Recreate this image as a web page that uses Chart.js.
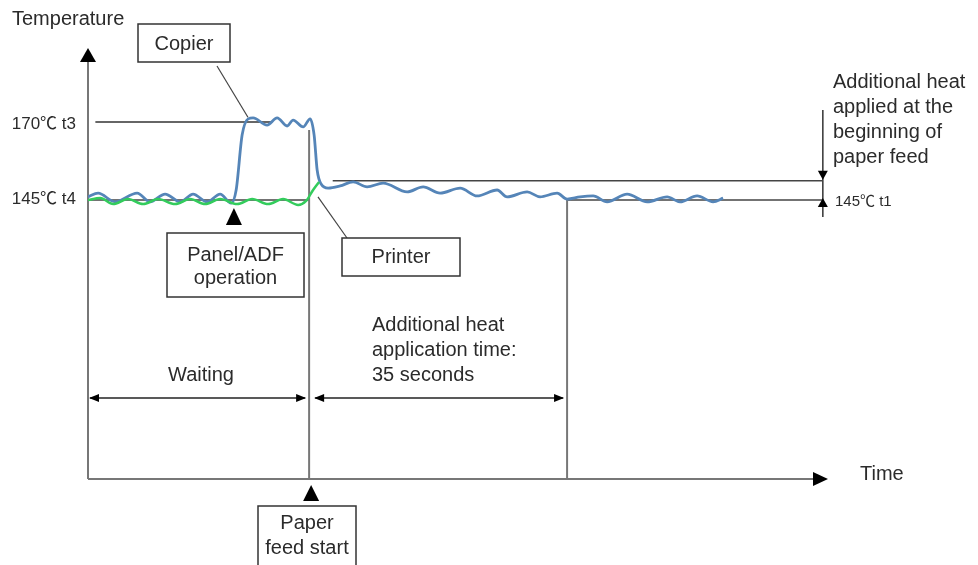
<!DOCTYPE html>
<html>
<head>
<meta charset="utf-8">
<script src="https://cdn.jsdelivr.net/npm/chart.js@4/dist/chart.umd.min.js"></script>
<style>
html, body { margin: 0; padding: 0; background: #fff; }
#wrap { width: 978px; height: 565px; }
</style>
</head>
<body>
<div id="wrap"><canvas id="fuserChart" width="978" height="565"></canvas></div>
<script>
// 时间(秒, 0 = 开始进纸), 温度(℃)
const copierTime = [-30.0, -28.63, -26.32, -23.33, -21.57, -19.54, -17.50, -15.74, -13.84, -12.07, -10.58,
    -9.90, -9.09, -8.27, -7.60, -5.70, -4.34, -2.98, -2.17, -0.81, 0.14, 0.68, 1.09, 1.63, 2.58, 4.21,
    5.97, 7.87, 10.04, 13.30, 15.47, 17.77, 20.49, 22.79, 25.51, 26.86, 29.58, 31.34, 33.65, 35.00,
    36.77, 38.54, 40.43, 43.15, 45.86, 48.57, 50.33, 52.64, 54.81, 56.17];
const copierTemp = [146.0, 147.2, 144.4, 147.2, 144.4, 146.9, 144.4, 146.9, 144.4, 146.9, 144.0,
    148.2, 165.8, 171.0, 171.3, 169.0, 171.3, 168.7, 170.6, 168.4, 171.0, 165.8, 154.6, 150.1, 148.8, 149.5,
    150.8, 149.2, 150.4, 147.6, 149.2, 147.2, 148.8, 146.3, 148.2, 146.0, 147.6, 146.0, 147.2, 145.3,
    146.0, 146.3, 144.4, 146.9, 144.4, 146.0, 144.4, 146.3, 144.4, 145.6];

const printerTime = [-30.0, -28.35, -26.59, -24.56, -22.52, -20.49, -18.18, -16.14, -14.11, -12.07,
    -9.77, -7.73, -5.56, -3.53, -1.49, -0.41, 0.54, 1.36];
const printerTemp = [145.0, 145.6, 143.7, 145.3, 143.7, 145.3, 143.7, 145.3, 143.7, 145.3,
    143.7, 145.3, 143.7, 145.3, 143.4, 144.7, 148.2, 150.8];

// 参考温度和事件时间
const tempT3 = 170;
const tempT4 = 145;
const tempT1 = 145;
const tempBoost = 151.2;
const panelOpTime = -10.2;
const paperFeedTime = 0;
const boostEndTime = 35;

const FONT = '"Liberation Sans", Arial, "Noto Sans CJK SC", sans-serif';
const TEXT = '#2b2b2b';

function seg(ctx, x1, y1, x2, y2, color, w) {
    ctx.beginPath();
    ctx.strokeStyle = color;
    ctx.lineWidth = w;
    ctx.moveTo(x1, y1);
    ctx.lineTo(x2, y2);
    ctx.stroke();
}

// 实心三角形, (x,y) 为尖端
function tri(ctx, x, y, dir, len, half) {
    ctx.beginPath();
    ctx.fillStyle = '#000';
    ctx.moveTo(x, y);
    if (dir === 'up') { ctx.lineTo(x - half, y + len); ctx.lineTo(x + half, y + len); }
    if (dir === 'down') { ctx.lineTo(x - half, y - len); ctx.lineTo(x + half, y - len); }
    if (dir === 'left') { ctx.lineTo(x + len, y - half); ctx.lineTo(x + len, y + half); }
    if (dir === 'right') { ctx.lineTo(x - len, y - half); ctx.lineTo(x - len, y + half); }
    ctx.closePath();
    ctx.fill();
}

function label(ctx, str, x, y, size, align) {
    ctx.font = size + 'px ' + FONT;
    ctx.fillStyle = TEXT;
    ctx.textAlign = align || 'center';
    ctx.textBaseline = 'middle';
    ctx.fillText(str, x, y);
}

function box(ctx, x, y, w, h) {
    ctx.fillStyle = '#fff';
    ctx.fillRect(x, y, w, h);
    ctx.strokeStyle = '#333';
    ctx.lineWidth = 1.5;
    ctx.strokeRect(x, y, w, h);
}

const diagramPlugin = {
    id: 'diagram',
    beforeDatasetsDraw(chart) {
        const ctx = chart.ctx;
        const a = chart.chartArea;
        const X = v => chart.scales.x.getPixelForValue(v);
        const Y = v => chart.scales.y.getPixelForValue(v);
        ctx.save();
        // 温度水平线
        seg(ctx, X(-29), Y(tempT3), X(-5), Y(tempT3), '#333', 1.5);
        seg(ctx, a.left, Y(tempT4), X(paperFeedTime), Y(tempT4), '#444', 1.5);
        seg(ctx, X(3.2), Y(tempBoost), X(69.6), Y(tempBoost), '#444', 1.5);
        seg(ctx, X(boostEndTime), Y(tempT1), X(69.6), Y(tempT1), '#444', 1.5);
        // 事件竖线
        seg(ctx, X(paperFeedTime), Y(167.4), X(paperFeedTime), a.bottom, '#777', 2);
        seg(ctx, X(boostEndTime), Y(tempT1), X(boostEndTime), a.bottom, '#777', 2);
        // 坐标轴
        seg(ctx, a.left, a.top + 12, a.left, a.bottom, '#777', 2);
        seg(ctx, a.left, a.bottom, a.right - 14, a.bottom, '#777', 2);
        tri(ctx, a.left, a.top, 'up', 14, 8);
        tri(ctx, a.right, a.bottom, 'right', 15, 7);
        ctx.restore();
    },
    afterDatasetsDraw(chart) {
        const ctx = chart.ctx;
        const a = chart.chartArea;
        const X = v => chart.scales.x.getPixelForValue(v);
        const Y = v => chart.scales.y.getPixelForValue(v);
        ctx.save();

        label(ctx, 'Temperature', 12, 19, 20, 'left');
        label(ctx, 'Time', 860, 474, 20, 'left');
        label(ctx, '170℃ t3', 76, Y(tempT3) + 2, 17, 'right');
        label(ctx, '145℃ t4', 76, Y(tempT4) - 1, 17, 'right');
        label(ctx, '145℃ t1', 835, Y(tempT1) + 2, 15, 'left');

        // Copier
        seg(ctx, 217, 66, X(-8.3), Y(171.5), '#444', 1.2);
        box(ctx, 138, 24, 92, 38);
        label(ctx, 'Copier', 184, 44, 20);

        // Panel/ADF operation
        tri(ctx, X(panelOpTime), Y(tempT4) + 8, 'up', 17, 8);
        box(ctx, 167, 233, 137, 64);
        label(ctx, 'Panel/ADF', 235.5, 255, 20);
        label(ctx, 'operation', 235.5, 278, 20);

        // Printer
        seg(ctx, X(1.2), Y(146.0), 347, 238, '#444', 1.2);
        box(ctx, 342, 238, 118, 38);
        label(ctx, 'Printer', 401, 257, 20);

        // 追加加热时间
        label(ctx, 'Additional heat', 372, 325, 20, 'left');
        label(ctx, 'application time:', 372, 350, 20, 'left');
        label(ctx, '35 seconds', 372, 375, 20, 'left');
        label(ctx, 'Waiting', 201, 375, 20);

        const ay = 398;
        seg(ctx, a.left + 2, ay, X(paperFeedTime) - 4, ay, '#222', 1.5);
        tri(ctx, a.left + 1, ay, 'left', 10, 4);
        tri(ctx, X(paperFeedTime) - 3, ay, 'right', 10, 4);
        seg(ctx, X(paperFeedTime) + 6, ay, X(boostEndTime) - 4, ay, '#222', 1.5);
        tri(ctx, X(paperFeedTime) + 5, ay, 'left', 10, 4);
        tri(ctx, X(boostEndTime) - 3, ay, 'right', 10, 4);

        // Paper feed start
        tri(ctx, X(paperFeedTime) + 2, a.bottom + 6, 'up', 16, 8);
        box(ctx, 258, 506, 98, 62);
        label(ctx, 'Paper', 307, 523, 20);
        label(ctx, 'feed start', 307, 548, 20);

        // 右侧追加加热标注
        const vx = X(69.7);
        seg(ctx, vx, 110, vx, 217, '#333', 1.5);
        tri(ctx, vx, Y(tempBoost) - 1, 'down', 9, 5);
        tri(ctx, vx, Y(tempT1) - 2, 'up', 9, 5);
        label(ctx, 'Additional heat', 833, 82, 20, 'left');
        label(ctx, 'applied at the', 833, 107, 20, 'left');
        label(ctx, 'beginning of', 833, 132, 20, 'left');
        label(ctx, 'paper feed', 833, 157, 20, 'left');

        ctx.restore();
    }
};

const ctx = document.getElementById('fuserChart').getContext('2d');
const fuserChart = new Chart(ctx, {
    type: 'line',
    data: {
        datasets: [{
            label: 'Printer',
            data: printerTime.map((t, i) => ({ x: t, y: printerTemp[i] })),
            borderColor: '#33cc5c',
            borderWidth: 2.5,
            pointRadius: 0,
            cubicInterpolationMode: 'monotone'
        }, {
            label: 'Copier',
            data: copierTime.map((t, i) => ({ x: t, y: copierTemp[i] })),
            borderColor: '#5585b8',
            borderWidth: 2.8,
            pointRadius: 0,
            cubicInterpolationMode: 'monotone'
        }]
    },
    options: {
        responsive: false,
        animation: false,
        layout: { padding: { left: 88, right: 150, top: 48, bottom: 86 } },
        plugins: { legend: { display: false }, tooltip: { enabled: false } },
        scales: {
            x: { type: 'linear', min: -30, max: 70.4, display: false },
            y: { min: 55.6, max: 193.7, display: false }
        }
    },
    plugins: [diagramPlugin]
});
</script>
</body>
</html>
